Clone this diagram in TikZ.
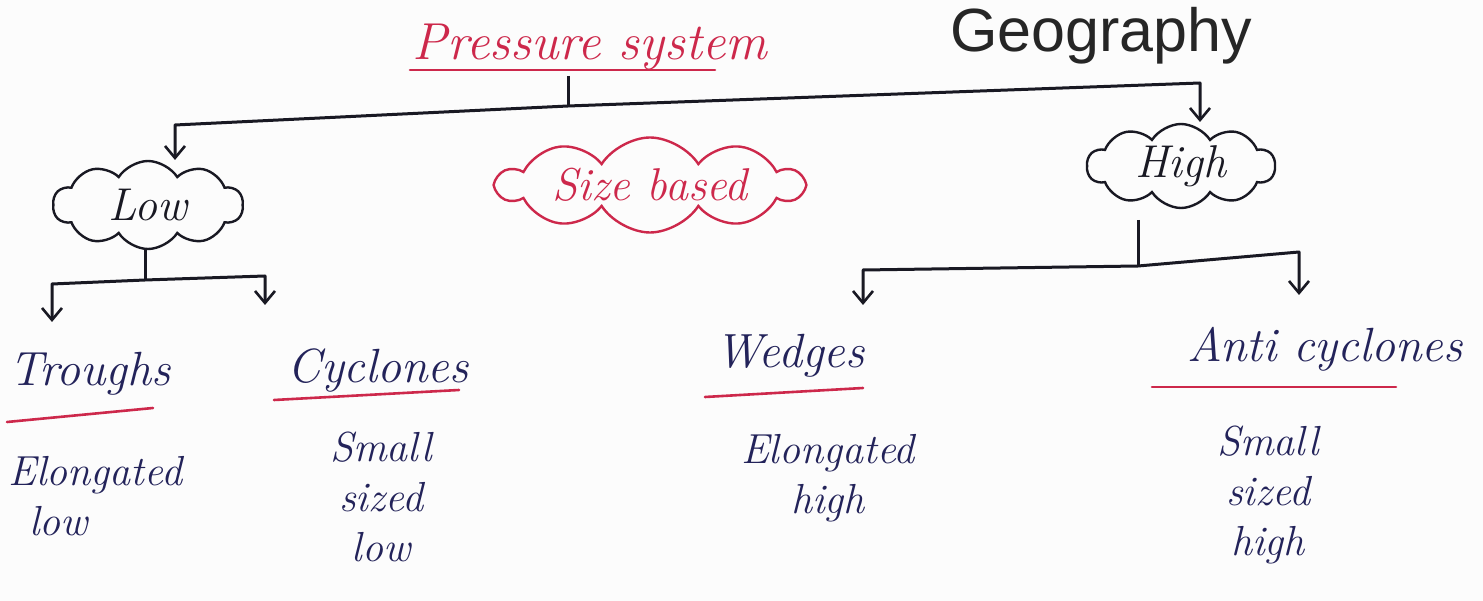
\documentclass[tikz,border=0pt]{standalone}
\usepackage{fontspec}
\newfontfamily\geofont{Liberation Sans}
\usetikzlibrary{arrows.meta,shapes.symbols}
\definecolor{inkred}{RGB}{205,40,75}
\definecolor{inkblue}{RGB}{35,35,90}
\definecolor{inkblack}{RGB}{25,25,35}
\definecolor{paper}{RGB}{252,252,252}
\tikzset{
  hand/.style={font=\fontsize{48}{56}\selectfont\itshape},
  redtext/.style={font=\fontsize{52}{60}\selectfont\itshape, text=inkred, inner sep=0pt},
  geotext/.style={font=\fontsize{61}{70}\selectfont\geofont, text=black!85, inner sep=0pt},
  cloudbox/.style={cloud, cloud puffs=10, cloud puff arc=115, cloud ignores aspect,
    line width=2.4pt, inner sep=0pt, font=\fontsize{46}{54}\selectfont\itshape},
  blkcloud/.style={cloudbox, draw=inkblack, text=inkblack, minimum width=190, minimum height=88},
  redcloud/.style={cloudbox, draw=inkred, text=inkred, minimum width=305, minimum height=95},
  kind/.style={hand, text=inkblue, inner sep=0pt, anchor=base},
  note/.style={font=\fontsize{42}{50}\selectfont\itshape, text=inkblue, inner sep=0pt},
  link/.style={draw=inkblack, line width=3pt, line join=round},
  arrowlink/.style={link, -{Straight Barb[length=12pt,width=20pt,line width=2.6pt]}},
  uline/.style={draw=inkred, line width=2.6pt, line cap=round}
}
\begin{document}
\begin{tikzpicture}[x=1pt,y=-1pt]
\useasboundingbox (0,0) rectangle (1483,601);
\fill[paper] (0,0) rectangle (1483,601);

% headings
\node[redtext, anchor=base] (ps) at (590,60) {Pressure system};
\node[geotext, anchor=base] (geo) at (1101,52) {Geography};
\draw[uline] (410,70) -- (715,70);

% clouds
\node[blkcloud] (low) at (148,205) {Low};
\node[redcloud] (size) at (650,185) {Size based};
\node[blkcloud, minimum width=188, minimum height=84] (high) at (1181,166) {High};

% top level branching
\coordinate (top) at (568,76);
\coordinate (hub) at (568,106);
\coordinate (lowbend) at (175,125);
\coordinate (highbend) at (1200,83);
\coordinate (lowtip) at (175,160);
\coordinate (hightip) at (1200,122);
\draw[link] (top) -- (hub);
\draw[arrowlink] (hub) -- (lowbend) -- (lowtip);
\draw[arrowlink] (hub) -- (highbend) -- (hightip);

% low branch
\coordinate (lowstem) at (145,250);
\coordinate (lowhub) at (145,280);
\coordinate (lowL) at (52,284);
\coordinate (lowR) at (265,276);
\coordinate (trtip) at (52,322);
\coordinate (cytip) at (265,305);
\draw[link] (lowstem) -- (lowhub);
\draw[arrowlink] (lowhub) -- (lowL) -- (trtip);
\draw[arrowlink] (lowhub) -- (lowR) -- (cytip);

% high branch
\coordinate (highstem) at (1138,220);
\coordinate (highhub) at (1138,266);
\coordinate (highL) at (863,270);
\coordinate (highR) at (1299,252);
\coordinate (wetip) at (863,305);
\coordinate (actip) at (1299,295);
\draw[link] (highstem) -- (highhub);
\draw[arrowlink] (highhub) -- (highL) -- (wetip);
\draw[arrowlink] (highhub) -- (highR) -- (actip);

% kinds of pressure system
\node[kind] (tr) at (90,385) {Troughs};
\node[kind] (cy) at (378,382) {Cyclones};
\node[kind] (we) at (790,368) {Wedges};
\node[kind] (ac) at (1325,362) {Anti cyclones};
\draw[uline] (7,422) -- (153,408);
\draw[uline] (274,400) -- (459,390);
\draw[uline] (705,397) -- (863,388);
\draw[uline] (1152,387) -- (1396,387);

% descriptions
\node[note, align=left, anchor=north west] (d1) at (8,456) {Elongated\\\hspace*{0.5em}low};
\node[note, align=center, anchor=north] (d2) at (381,432) {Small\\sized\\low};
\node[note, align=center, anchor=north] (d3) at (828,434) {Elongated\\high};
\node[note, align=center, anchor=north] (d4) at (1268,426) {Small\\sized\\high};
\end{tikzpicture}
\end{document}
